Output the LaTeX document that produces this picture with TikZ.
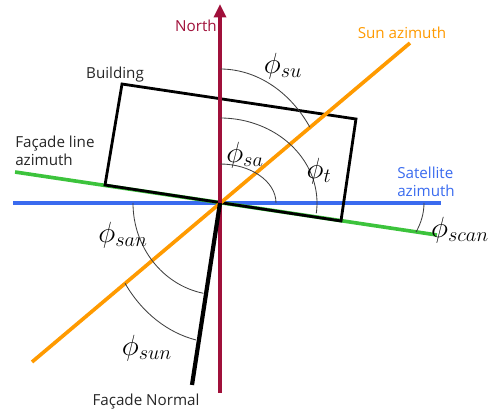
\documentclass[tikz,border=0pt]{standalone}
\usepackage{fontspec}
\setmainfont{Open Sans}
\usepackage{tikz}
\usetikzlibrary{arrows.meta}
\definecolor{northred}{HTML}{A0103A}
\definecolor{sunorange}{HTML}{FF9A00}
\definecolor{satblue}{HTML}{3A6BEF}
\definecolor{facadegreen}{HTML}{3CC33C}
\definecolor{arcgray}{HTML}{404040}

\begin{document}
\begin{tikzpicture}[
  scale=0.025,
  azline/.style={line width=2.6pt},
  wall/.style={draw=black, line width=2pt, line join=miter},
  anglearc/.style={draw=arcgray, line width=0.6pt},
  txt/.style={font=\fontsize{10.8}{12.8}\selectfont, align=left, inner sep=0pt, text=black!85},
  anglelabel/.style={font=\fontsize{19.5}{23}\selectfont, inner sep=0pt},
  arrow/.style={-{Triangle[length=9.5pt,width=8.5pt]}, line width=2.6pt, color=northred},
]
  \useasboundingbox (-220,-211) rectangle (268,203);
  \coordinate (O) at (0,0);
  \coordinate (N) at (0,199);
  \coordinate (S) at (0,-190);
  \coordinate (satW) at (-207,0);
  \coordinate (satE) at (221,0);
  \coordinate (facW) at (-205,31);
  \coordinate (facE) at (217,-32);
  \coordinate (sunSW) at (-188,-159);
  \coordinate (sunNE) at (190,160);
  \coordinate (normal) at (-28,-182);
  \coordinate (B1) at (-98,119);
  \coordinate (B2) at (-115,18);
  \coordinate (B3) at (121,-18);
  \coordinate (B4) at (136,84);

  \draw[azline, satblue] (satW) -- (satE);
  \draw[azline, facadegreen] (facW) -- (facE);
  \draw[wall] (B1) -- (B2) -- (B3) -- (B4) -- cycle;
  \draw[azline, sunorange] (sunSW) -- (sunNE);
  \draw[arrow] (S) -- (N);
  \draw[line width=3pt, black] (O) -- (normal);

  \draw[anglearc] (0,134) arc[start angle=90, end angle=34.5, x radius=109, y radius=134];
  \draw[anglearc] (0,39) arc[start angle=90, end angle=0, x radius=56, y radius=39];
  \draw[anglearc] (0,85) arc[start angle=90, end angle=-7, x radius=97, y radius=85];
  \draw[anglearc] (-87,0) arc[start angle=180, end angle=259, x radius=87, y radius=92];
  \draw[anglearc] (-95,-80.3) arc[start angle=215, end angle=258, x radius=116, y radius=140];
  \draw[anglearc] (204,0) arc[start angle=0, end angle=-16, x radius=204, y radius=105];

  \node[txt, text=northred, anchor=east] (northlabel) at (-3,177) {North};
  \node[txt, text=sunorange] (sunlabel) at (182,170) {Sun azimuth};
  \node[txt] (buildinglabel) at (-105,128) {Building};
  \node[txt, anchor=west] (facadelabel) at (-205,52) {Façade line\\azimuth};
  \node[txt, text=satblue, anchor=west] (satlabel) at (177,21) {Satellite\\azimuth};
  \node[txt] (normallabel) at (-74,-199) {Façade Normal};

  \node[anglelabel] (phisu) at (63,137) {$\phi_{su}$};
  \node[anglelabel] (phisa) at (25,48) {$\phi_{sa}$};
  \node[anglelabel] (phit) at (99,32) {$\phi_{t}$};
  \node[anglelabel] (phisan) at (-97,-32) {$\phi_{san}$};
  \node[anglelabel] (phisun) at (-73,-145) {$\phi_{sun}$};
  \node[anglelabel] (phiscan) at (240,-27) {$\phi_{scan}$};
\end{tikzpicture}
\end{document}
